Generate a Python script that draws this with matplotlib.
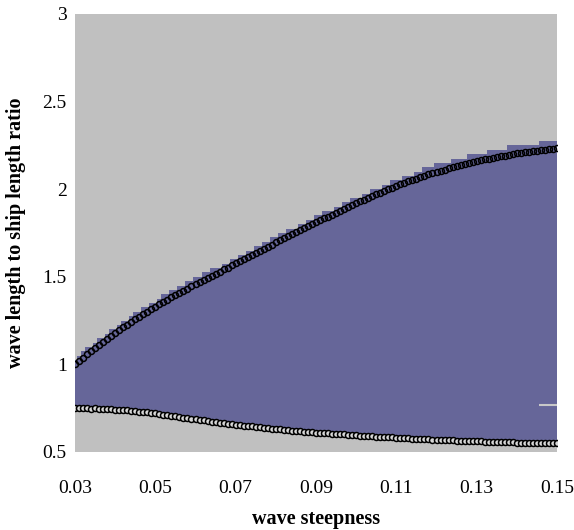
import matplotlib
matplotlib.use("Agg")
import matplotlib.pyplot as plt
import numpy as np

# wave steepness samples
steepness = [
    0.030, 0.031, 0.032, 0.033, 0.034, 0.035, 0.036, 0.037, 0.038, 0.039,
    0.040, 0.041, 0.042, 0.043, 0.044, 0.045, 0.046, 0.047, 0.048, 0.049,
    0.050, 0.051, 0.052, 0.053, 0.054, 0.055, 0.056, 0.057, 0.058, 0.059,
    0.060, 0.061, 0.062, 0.063, 0.064, 0.065, 0.066, 0.067, 0.068, 0.069,
    0.070, 0.071, 0.072, 0.073, 0.074, 0.075, 0.076, 0.077, 0.078, 0.079,
    0.080, 0.081, 0.082, 0.083, 0.084, 0.085, 0.086, 0.087, 0.088, 0.089,
    0.090, 0.091, 0.092, 0.093, 0.094, 0.095, 0.096, 0.097, 0.098, 0.099,
    0.100, 0.101, 0.102, 0.103, 0.104, 0.105, 0.106, 0.107, 0.108, 0.109,
    0.110, 0.111, 0.112, 0.113, 0.114, 0.115, 0.116, 0.117, 0.118, 0.119,
    0.120, 0.121, 0.122, 0.123, 0.124, 0.125, 0.126, 0.127, 0.128, 0.129,
    0.130, 0.131, 0.132, 0.133, 0.134, 0.135, 0.136, 0.137, 0.138, 0.139,
    0.140, 0.141, 0.142, 0.143, 0.144, 0.145, 0.146, 0.147, 0.148, 0.149,
    0.150,
]

# upper boundary (marker curve)
upper_curve = [
    1.000, 1.019, 1.038, 1.057, 1.076, 1.095, 1.112, 1.129, 1.146, 1.163,
    1.180, 1.196, 1.211, 1.227, 1.242, 1.258, 1.272, 1.287, 1.301, 1.316,
    1.330, 1.343, 1.356, 1.370, 1.383, 1.396, 1.408, 1.421, 1.433, 1.446,
    1.458, 1.470, 1.482, 1.494, 1.506, 1.518, 1.530, 1.542, 1.553, 1.565,
    1.577, 1.589, 1.601, 1.613, 1.625, 1.637, 1.649, 1.661, 1.672, 1.684,
    1.696, 1.708, 1.719, 1.731, 1.742, 1.754, 1.765, 1.777, 1.788, 1.800,
    1.811, 1.822, 1.833, 1.844, 1.855, 1.866, 1.877, 1.888, 1.898, 1.909,
    1.920, 1.930, 1.940, 1.951, 1.961, 1.971, 1.980, 1.990, 1.999, 2.009,
    2.018, 2.027, 2.035, 2.044, 2.052, 2.061, 2.069, 2.076, 2.084, 2.091,
    2.099, 2.106, 2.112, 2.119, 2.125, 2.132, 2.138, 2.143, 2.149, 2.154,
    2.160, 2.165, 2.170, 2.174, 2.179, 2.184, 2.188, 2.192, 2.196, 2.200,
    2.204, 2.207, 2.210, 2.214, 2.217, 2.220, 2.223, 2.225, 2.228, 2.230,
    2.233,
]

# lower boundary (marker curve)
lower_curve = [
    0.750, 0.751, 0.749, 0.750, 0.748, 0.749, 0.746, 0.746, 0.744, 0.744,
    0.742, 0.741, 0.738, 0.738, 0.735, 0.734, 0.731, 0.729, 0.727, 0.722,
    0.721, 0.717, 0.714, 0.710, 0.707, 0.703, 0.700, 0.696, 0.693, 0.690,
    0.686, 0.683, 0.680, 0.676, 0.673, 0.670, 0.667, 0.664, 0.661, 0.659,
    0.655, 0.653, 0.650, 0.648, 0.646, 0.643, 0.641, 0.638, 0.636, 0.634,
    0.631, 0.629, 0.627, 0.624, 0.622, 0.620, 0.619, 0.616, 0.615, 0.612,
    0.611, 0.609, 0.608, 0.606, 0.604, 0.603, 0.601, 0.600, 0.598, 0.597,
    0.595, 0.594, 0.592, 0.591, 0.589, 0.588, 0.587, 0.585, 0.584, 0.583,
    0.582, 0.580, 0.579, 0.578, 0.577, 0.576, 0.574, 0.574, 0.572, 0.571,
    0.570, 0.569, 0.568, 0.567, 0.566, 0.565, 0.564, 0.563, 0.562, 0.561,
    0.560, 0.560, 0.559, 0.558, 0.558, 0.557, 0.556, 0.556, 0.555, 0.555,
    0.554, 0.554, 0.553, 0.553, 0.552, 0.552, 0.551, 0.551, 0.550, 0.550,
    0.550,
]

# top of the shaded (unstable) region, stepped
region_top = [
    1.025, 1.050, 1.075, 1.100, 1.100, 1.125, 1.150, 1.150, 1.175, 1.200,
    1.200, 1.225, 1.250, 1.250, 1.275, 1.300, 1.300, 1.325, 1.325, 1.350,
    1.350, 1.375, 1.400, 1.400, 1.425, 1.425, 1.450, 1.450, 1.475, 1.475,
    1.500, 1.500, 1.525, 1.525, 1.550, 1.550, 1.550, 1.575, 1.575, 1.600,
    1.600, 1.625, 1.625, 1.650, 1.650, 1.675, 1.675, 1.700, 1.700, 1.725,
    1.725, 1.750, 1.750, 1.775, 1.775, 1.775, 1.800, 1.800, 1.825, 1.825,
    1.850, 1.850, 1.875, 1.875, 1.875, 1.900, 1.900, 1.925, 1.925, 1.950,
    1.950, 1.950, 1.975, 1.975, 2.000, 2.000, 2.000, 2.025, 2.025, 2.050,
    2.050, 2.050, 2.075, 2.075, 2.075, 2.100, 2.100, 2.125, 2.125, 2.125,
    2.150, 2.150, 2.150, 2.150, 2.175, 2.175, 2.175, 2.175, 2.200, 2.200,
    2.200, 2.200, 2.200, 2.225, 2.225, 2.225, 2.225, 2.225, 2.250, 2.250,
    2.250, 2.250, 2.250, 2.250, 2.250, 2.250, 2.275, 2.275, 2.275, 2.275,
    2.275,
]

# small light seam visible in the shaded region at the right edge
seam_level = 0.77
seam_span = [0.1455, 0.150]

x_ticks = [0.03, 0.05, 0.07, 0.09, 0.11, 0.13, 0.15]
x_ticklabels = ["0.03", "0.05", "0.07", "0.09", "0.11", "0.13", "0.15"]
y_ticks = [0.5, 1.0, 1.5, 2.0, 2.5, 3.0]
y_ticklabels = ["0.5", "1", "1.5", "2", "2.5", "3"]

plt.rcParams['font.family'] = ['Liberation Serif', 'DejaVu Serif']

fig = plt.figure(figsize=(5.74, 5.30), dpi=100)
ax = fig.add_axes([75 / 574, 78 / 530, 482 / 574, 438 / 530])
ax.set_facecolor('#C0C0C0')

ax.fill_between(steepness, lower_curve, region_top, step='mid',
                color='#666699', linewidth=0, zorder=1)
ax.hlines(seam_level, seam_span[0], seam_span[1], color='#C8C8C8',
          linewidth=1.5, zorder=2)

ax.plot(steepness, upper_curve, linestyle='none', marker='o', markersize=4.3,
        markerfacecolor='none', markeredgecolor='black', markeredgewidth=1.1,
        zorder=3)
ax.plot(steepness, lower_curve, linestyle='none', marker='o', markersize=4.3,
        markerfacecolor='#D8D8D8', markeredgecolor='black', markeredgewidth=1.1,
        zorder=3)

ax.set_xlim(0.03, 0.15)
ax.set_ylim(0.5, 3.0)
ax.set_xticks(x_ticks)
ax.set_xticklabels(x_ticklabels)
ax.set_yticks(y_ticks)
ax.set_yticklabels(y_ticklabels)
ax.tick_params(axis='both', length=0, labelsize=14, colors='black')
ax.tick_params(axis='x', pad=20)
ax.tick_params(axis='y', pad=6)
for s in ax.spines.values():
    s.set_visible(False)

ax.set_xlabel('wave steepness', fontsize=14.5, fontweight='bold', labelpad=9)
ax.set_ylabel('wave length to ship length ratio', fontsize=14.5,
              fontweight='bold', labelpad=12)

fig.savefig('out.png', dpi=100)
